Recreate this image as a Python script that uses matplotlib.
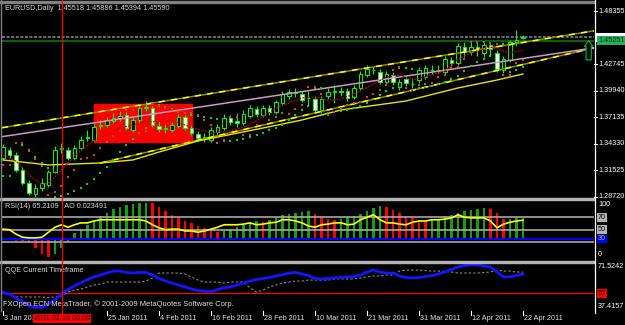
import numpy as np
import matplotlib
matplotlib.use("Agg")
import matplotlib.pyplot as plt
from matplotlib.patches import Rectangle, Polygon
from matplotlib.lines import Line2D
from matplotlib.transforms import blended_transform_factory as blend, offset_copy

plt.rcParams["font.family"] = ["Liberation Sans", "DejaVu Sans"]

W, H = 625, 325

# EURUSD daily bars, 3 Jan - 22 Apr 2011
opens = [1.3282, 1.3367, 1.3314, 1.3155, 1.3017, 1.2901, 1.2964, 1.2996, 1.3134, 1.3377,
         1.3367, 1.3282, 1.3388, 1.3494, 1.3472, 1.3621, 1.3631, 1.3673, 1.3705, 1.3737,
         1.3578, 1.3684, 1.3811, 1.3811, 1.3621, 1.3589, 1.3578, 1.3621, 1.3716, 1.3599,
         1.3536, 1.3494, 1.3472, 1.3557, 1.3599, 1.3705, 1.3673, 1.3652, 1.3726, 1.3800,
         1.3737, 1.3811, 1.3769, 1.3864, 1.3938, 1.3970, 1.3959, 1.3917, 1.3906, 1.3790,
         1.3938, 1.3985, 1.3991, 1.3991, 1.3927, 1.4023, 1.4160, 1.4208, 1.4192, 1.4086,
         1.4160, 1.4033, 1.4118, 1.4060, 1.4107, 1.4139, 1.4208, 1.4213, 1.4192, 1.4319,
         1.4287, 1.4457, 1.4404, 1.4457, 1.4393, 1.4478, 1.4393, 1.4213, 1.4319, 1.4510,
         1.45518]
highs = [1.3430, 1.3398, 1.3345, 1.3187, 1.3049, 1.3007, 1.3070, 1.3155, 1.3409, 1.3441,
         1.3398, 1.3419, 1.3515, 1.3578, 1.3642, 1.3684, 1.3716, 1.3758, 1.3779, 1.3769,
         1.3716, 1.3832, 1.3885, 1.3832, 1.3673, 1.3642, 1.3663, 1.3748, 1.3737, 1.3631,
         1.3568, 1.3546, 1.3610, 1.3642, 1.3748, 1.3737, 1.3758, 1.3790, 1.3843, 1.3832,
         1.3843, 1.3843, 1.3896, 1.3991, 1.4012, 1.4023, 1.3991, 1.3991, 1.3938, 1.3938,
         1.4023, 1.4054, 1.4033, 1.4023, 1.4054, 1.4203, 1.4266, 1.4256, 1.4224, 1.4203,
         1.4192, 1.4118, 1.4150, 1.4128, 1.4245, 1.4266, 1.4266, 1.4266, 1.4361, 1.4351,
         1.4499, 1.4510, 1.4510, 1.4510, 1.4510, 1.4510, 1.4425, 1.4361, 1.4531, 1.4637,
         1.45886]
lows = [1.3261, 1.3282, 1.3134, 1.2996, 1.2890, 1.2869, 1.2933, 1.2975, 1.3123, 1.3335,
        1.3261, 1.3261, 1.3367, 1.3462, 1.3462, 1.3589, 1.3610, 1.3652, 1.3673, 1.3578,
        1.3557, 1.3663, 1.3779, 1.3610, 1.3557, 1.3546, 1.3557, 1.3599, 1.3578, 1.3525,
        1.3462, 1.3451, 1.3451, 1.3536, 1.3578, 1.3631, 1.3610, 1.3631, 1.3705, 1.3716,
        1.3716, 1.3737, 1.3748, 1.3843, 1.3906, 1.3927, 1.3875, 1.3843, 1.3758, 1.3758,
        1.3906, 1.3864, 1.3938, 1.3885, 1.3906, 1.4001, 1.4139, 1.4171, 1.4065, 1.4054,
        1.4054, 1.4001, 1.4044, 1.4023, 1.4076, 1.4118, 1.4171, 1.4181, 1.4171, 1.4256,
        1.4266, 1.4351, 1.4372, 1.4361, 1.4351, 1.4372, 1.4192, 1.4181, 1.4298, 1.4467,
        1.45394]
closes = [1.3398, 1.3314, 1.3155, 1.3017, 1.2911, 1.2964, 1.3017, 1.3134, 1.3367, 1.3388,
          1.3282, 1.3388, 1.3472, 1.3504, 1.3610, 1.3631, 1.3684, 1.3705, 1.3726, 1.3599,
          1.3684, 1.3811, 1.3822, 1.3631, 1.3589, 1.3599, 1.3631, 1.3716, 1.3599, 1.3546,
          1.3494, 1.3504, 1.3578, 1.3610, 1.3705, 1.3663, 1.3652, 1.3748, 1.3811, 1.3748,
          1.3811, 1.3769, 1.3875, 1.3959, 1.3980, 1.3975, 1.3896, 1.3922, 1.3790, 1.3906,
          1.3980, 1.3991, 1.3985, 1.3917, 1.4023, 1.4171, 1.4224, 1.4213, 1.4086, 1.4171,
          1.4086, 1.4086, 1.4076, 1.4065, 1.4213, 1.4234, 1.4213, 1.4208, 1.4330, 1.4287,
          1.4467, 1.4404, 1.4457, 1.4425, 1.4478, 1.4435, 1.4224, 1.4330, 1.4510, 1.4531,
          1.45590]

# parabolic-style dots (green and red)
sar_green = [1.3091, 1.3091, 1.3441, 1.3419, 1.3367, 1.3292, 1.3229, 1.3176, 1.2869, 1.2880,
             1.2901, 1.2933, 1.2964, 1.3007, 1.3060, 1.3123, 1.3187, 1.3261, 1.3345, 1.3419,
             1.3483, 1.3546, 1.3599, 1.3853, 1.3843, 1.3822, 1.3800, 1.3779, 1.3758, 1.3737,
             1.3726, 1.3716, 1.3705, 1.3695, 1.3462, 1.3462, 1.3472, 1.3483, 1.3504, 1.3525,
             1.3546, 1.3578, 1.3599, 1.3631, 1.3684, 1.3737, 1.3790, 1.3832, 1.4023, 1.4023,
             1.3758, 1.3769, 1.3779, 1.3790, 1.3811, 1.3832, 1.3864, 1.3906, 1.3949, 1.3991,
             1.4023, 1.4234, 1.4234, 1.4224, 1.4023, 1.4033, 1.4044, 1.4065, 1.4086, 1.4118,
             1.4150, 1.4203, 1.4256, 1.4298, 1.4330, 1.4361, 1.4488, 1.4488, 1.4192, 1.4213,
             1.4245]
sar_red = [1.3208, 1.3208, 1.3441, 1.3441, 1.3356, 1.3271, 1.3197, 1.2890, 1.2922, 1.2985,
           1.3081, 1.3155, 1.3271, 1.3282, 1.3314, 1.3388, 1.3451, 1.3515, 1.3568, 1.3790,
           1.3790, 1.3546, 1.3568, 1.3853, 1.3832, 1.3811, 1.3790, 1.3769, 1.3758, 1.3758,
           1.3737, 1.3684, 1.3631, 1.3441, 1.3472, 1.3716, 1.3716, 1.3525, 1.3525, 1.3631,
           1.3631, 1.3684, 1.3716, 1.3758, 1.3748, 1.3800, 1.3843, 1.4033, 1.4033, 1.3959,
           1.3737, 1.3769, 1.3811, 1.3843, 1.3864, 1.3875, 1.3927, 1.3959, 1.4001, 1.4054,
           1.4213, 1.4245, 1.4023, 1.4001, 1.4054, 1.4065, 1.4076, 1.4139, 1.4160, 1.4234,
           1.4245, 1.4330, 1.4510, 1.4510, 1.4510, 1.4499, 1.4488, 1.4160, 1.4160, 1.4287,
           1.4319]

# moving averages (vertices read at bar positions)
ma_yellow_bars = [0, 7, 15, 20, 24, 30, 40, 46, 52, 62, 70, 76, 80]
ma_yellow = [1.3261, 1.3208, 1.3229, 1.3261, 1.3345, 1.3462, 1.3599, 1.3684, 1.3790,
             1.3885, 1.4023, 1.4107, 1.4171]
ma_red_bars = [0, 2, 4, 6, 7, 8, 10, 12, 14, 18, 22, 26, 29, 32, 35, 38, 42, 46, 48, 50,
               52, 54, 57, 59, 61, 63, 66, 68, 70, 72, 75, 77, 78, 80]
ma_red = [1.3314, 1.3250, 1.3102, 1.2996, 1.3017, 1.3081, 1.3229, 1.3367, 1.3462, 1.3599,
          1.3663, 1.3673, 1.3610, 1.3546, 1.3568, 1.3631, 1.3811, 1.3917, 1.3927, 1.3896,
          1.3906, 1.3959, 1.4065, 1.4139, 1.4160, 1.4107, 1.4160, 1.4203, 1.4330, 1.4393,
          1.4457, 1.4414, 1.4393, 1.4425]

# trend lines: (bar, price) anchors
upper_line = [(0, 1.3604), (80, 1.4505)]
mid_line = [(0, 1.3509), (80, 1.4335)]
lower_line = [(15, 1.3229), (80, 1.4272)]

box_bars = (14.0, 29.1)
box_prices = (1.3451, 1.3853)
bid = 1.45590
hline_level = 1.45251
price_ticks = [1.48355, 1.42745, 1.39940, 1.37135, 1.34330, 1.31525, 1.28720]

rsi = [51, 50, 43, 38, 37, 37, 38, 46, 54, 58,
       54, 58, 61, 61, 64, 66, 66, 66, 66, 66,
       66, 66, 64, 58, 53, 50, 51, 51, 48, 48,
       46, 48, 51, 54, 58, 58, 58, 59, 61, 58,
       59, 61, 62, 66, 66, 64, 61, 56, 54, 58,
       59, 61, 61, 58, 59, 66, 70, 74, 66, 61,
       61, 59, 58, 62, 64, 64, 66, 66, 67, 69,
       74, 70, 69, 69, 69, 64, 53, 59, 62, 64,
       65.2109]
ao = [0.0011, -0.0011, -0.0022, -0.0023, -0.0045, -0.0101, -0.0168, -0.0201, -0.0168, -0.0101,
      -0.0034, 0.0070, 0.0109, 0.0157, 0.0205, 0.0257, 0.0294, 0.0332, 0.0355, 0.0380,
      0.0392, 0.0399, 0.0403, 0.0399, 0.0361, 0.0317, 0.0269, 0.0232, 0.0205, 0.0176,
      0.0145, 0.0120, 0.0101, 0.0078, 0.0090, 0.0112, 0.0134, 0.0157, 0.0179, 0.0201,
      0.0190, 0.0213, 0.0235, 0.0269, 0.0280, 0.0291, 0.0302, 0.0308, 0.0280, 0.0246,
      0.0224, 0.0213, 0.0224, 0.0246, 0.0257, 0.0280, 0.0313, 0.0347, 0.0369, 0.0358,
      0.0325, 0.0291, 0.0257, 0.0235, 0.0213, 0.0201, 0.0213, 0.0224, 0.0252, 0.0269,
      0.0291, 0.0310, 0.0325, 0.0332, 0.0344, 0.0332, 0.0291, 0.0224, 0.0229, 0.0233,
      0.023491]
qqe_fast = [50.5, 49.5, 46.6, 44.1, 41.3, 39.9, 40.0, 42.4, 45.6, 49.1,
            52.7, 55.2, 57.7, 59.8, 61.6, 63.0, 64.4, 65.8, 65.8, 64.8,
            64.4, 64.8, 64.8, 63.0, 60.5, 58.7, 57.3, 55.9, 54.5, 53.0,
            52.0, 51.6, 51.3, 52.7, 53.8, 54.5, 55.9, 57.3, 58.7, 59.8,
            60.5, 61.2, 62.3, 63.3, 64.4, 64.8, 63.7, 62.6, 60.5, 60.2,
            60.5, 60.9, 61.2, 61.6, 61.9, 63.0, 65.1, 66.5, 65.1, 64.4,
            64.4, 62.3, 61.2, 60.9, 61.2, 61.9, 62.6, 63.7, 65.1, 66.9,
            68.7, 69.7, 70.1, 70.1, 69.4, 68.7, 65.1, 61.6, 61.6, 62.6,
            63.7]
qqe_slow = [np.nan, np.nan, 47.4, 47.4, 47.4, 47.4, 47.4, 47.0, 47.4, 48.1,
            50.9, 52.3, 53.0, 54.5, 55.9, 56.6, 58.0, 58.0, 58.0, 58.0,
            58.0, 58.0, 58.7, 60.9, 64.4, 64.4, 64.4, 64.4, 63.7, 61.6,
            59.4, 58.0, 58.0, 58.0, 57.3, 58.0, 58.0, 58.0, 53.8, 50.9,
            52.3, 54.5, 55.9, 57.3, 58.0, 58.7, 58.7, 59.4, 59.4, 59.4,
            59.4, 60.2, 60.2, 60.2, 60.2, 60.9, 61.6, 62.3, 62.3, 63.0,
            63.0, 65.8, 66.5, 66.5, 66.5, 66.1, 65.8, 65.8, 65.5, 65.1,
            64.4, 64.4, 64.4, 64.4, 64.8, 65.1, 66.5, 65.8, 65.8, 65.1,
            65.1]

tick_bars = [0, 16, 24, 32, 40, 48, 56, 64, 72, 80]
tick_labels = ["3 Jan 2011", "25 Jan 2011", "4 Feb 2011", "16 Feb 2011", "28 Feb 2011",
               "10 Mar 2011", "21 Mar 2011", "31 Mar 2011", "12 Apr 2011", "22 Apr 2011"]
cursor_bar = 9.08
cursor_label = "2011.01.16 00:00"

for arr in (opens, highs, lows, closes, sar_green, sar_red, rsi, ao, qqe_fast, qqe_slow):
    assert len(arr) == 81, len(arr)

FS = 5.2
LIME = "#00ff00"


def fy(y):
    return 1 - y / H


fig = plt.figure(figsize=(W / 100, H / 100), dpi=100, facecolor="black")


def panel(top, bottom):
    a = fig.add_axes([2 / W, 1 - bottom / H, 592 / W, (bottom - top) / H])
    a.set_xlim(-1 / 6.5, 591 / 6.5)
    a.axis("off")
    return a


ax = panel(2, 198)
ax.set_ylim(1.28582, 1.49329)
ax_ao = panel(200, 261)
ax_ao.set_ylim(-0.02462, 0.04364)
ax_rsi = panel(200, 261)
ax_rsi.set_ylim(0, 97.6)
ax_qqe = panel(263, 311)
ax_qqe.set_ylim(37.4157, 71.5242)

x = np.arange(len(closes))
o, h, l, c = map(np.array, (opens, highs, lows, closes))
x0, x1 = ax.get_xlim()

# --- main price panel ---
ax.add_patch(Rectangle((box_bars[0], box_prices[0]), box_bars[1] - box_bars[0],
                       box_prices[1] - box_prices[0], color="#ff0000", zorder=1))
ax.axhline(bid, color="#8a8aa0", lw=1.1, ls=(0, (2, 1)), zorder=2)
ax.axhline(hline_level, color="#007a00", lw=1.2, zorder=2)


def ray(anchors, left=True):
    (b0, p0), (b1, p1) = anchors
    k = (p1 - p0) / (b1 - b0)
    xs = np.array([x0 if left else b0, x1])
    return xs, p0 + k * (xs - b0)


for anchors, left in ((upper_line, True), (lower_line, False)):
    xs, ys = ray(anchors, left)
    ax.plot(xs, ys, color="#8c8c00", lw=1.1, zorder=5)
    ax.plot(xs, ys, color="#ffff00", lw=1.1, ls=(0, (4, 4)), zorder=5)
xs, ys = ray(mid_line)
ax.plot(xs, ys, color="#c89ac8", lw=1.1, zorder=5)
ax.plot(ma_yellow_bars, ma_yellow, color="#e6e600", lw=1.0, zorder=5)
ax.plot(ma_red_bars, ma_red, color="#c80000", lw=0.9, ls=(0, (1.5, 1)), zorder=6)

ax.vlines(x, l, h, color=LIME, lw=0.75, zorder=3)
for xi, oi, ci in zip(x, o, c):
    lo, hi = min(oi, ci), max(oi, ci)
    ax.add_patch(Rectangle((xi - 0.3, lo), 0.6, max(hi - lo, 0.0004),
                           facecolor="black" if ci >= oi else "white",
                           edgecolor=LIME, lw=0.7, zorder=4))

ax.scatter(x, sar_green, s=4, marker="s", color="#00dd00", linewidths=0, zorder=7)
ax.scatter(x, sar_red, s=4, marker="s", color="#e83a3a", linewidths=0, zorder=7)

# arrow object at the right edge, tip on the green line
ab, ap = 90.1, hline_level
ax.add_patch(Polygon([(ab, ap), (ab - 0.65, ap - 0.0063), (ab - 0.4, ap - 0.0063),
                      (ab - 0.4, ap - 0.0205), (ab + 0.4, ap - 0.0205),
                      (ab + 0.4, ap - 0.0063), (ab + 0.65, ap - 0.0063)],
                     closed=True, facecolor="black", edgecolor="#00c040", lw=0.8,
                     zorder=8, clip_on=False))

# --- RSI + AO panel ---
ao_arr = np.array(ao)
ao_col = ["#10a010" if i == 0 or ao_arr[i] >= ao_arr[i - 1] else "#ff0000"
          for i in range(len(ao_arr))]
ax_ao.bar(x, ao_arr, width=0.32, color=ao_col, lw=0)
ax_ao.axhline(0, color="#0000ff", lw=1.6)
for lv in (70, 50, 30):
    ax_rsi.axhline(lv, color="#a8a8a8", lw=1.2, zorder=1)
ax_rsi.plot(x, rsi, color="#ffff00", lw=1.2, zorder=3)

# --- QQE panel ---
ax_qqe.axhline(50, color="#ff0000", lw=0.9)
ax_qqe.plot(x, qqe_slow, color="#8c8c8c", lw=0.8, ls=(0, (2, 2)))
ax_qqe.plot(x, qqe_fast, color="#1414ff", lw=2.0)

# --- frame pieces ---
fig.add_artist(Rectangle((0, fy(3)), 594 / W, 2 / H, transform=fig.transFigure,
                         color="#808080"))
for ytop in (198, 261):
    fig.add_artist(Rectangle((0, fy(ytop + 2)), 594 / W, 2 / H,
                             transform=fig.transFigure, color="#b4b4b4"))
fig.add_artist(Line2D([1.5 / W, 1.5 / W], [fy(0), fy(311)], transform=fig.transFigure,
                      color="#808080", lw=1))
fig.add_artist(Line2D([594.5 / W, 594.5 / W], [fy(0), fy(313)],
                      transform=fig.transFigure, color="white", lw=0.9))

# right price scale
tr_price = blend(fig.transFigure, ax.transData)
for v in price_ticks:
    fig.add_artist(Line2D([594 / W, 597 / W], [v, v], transform=tr_price, color="white", lw=0.8))
    fig.text(598 / W, v, f"{v:.5f}", transform=tr_price, color="white", size=FS, va="center")
# bid label box (mostly hidden under the green line label)
fig.add_artist(Rectangle((596 / W, bid - 0.0045), 29 / W, 0.009, transform=tr_price,
                         facecolor="white", edgecolor="none"))
fig.text(598 / W, hline_level, f"{hline_level:.5f}", transform=tr_price, color="#003000",
         size=FS, va="center", bbox=dict(facecolor="#22b060", edgecolor="none", pad=0.9))

# RSI / AO scale
tr_rsi = blend(fig.transFigure, ax_rsi.transData)
tr_ao = blend(fig.transFigure, ax_ao.transData)
fig.text(598 / W, fy(205), "100", color="white", size=FS, va="center")
for lv in (70, 50):
    fig.text(598 / W, lv, str(lv), transform=tr_rsi, color="black", size=FS, va="center",
             bbox=dict(facecolor="#b4b4b4", edgecolor="none", pad=0.6))
fig.text(598 / W, 0, "30", transform=tr_ao, color="#b0b0b0", size=FS, va="center",
         bbox=dict(facecolor="#0000ff", edgecolor="none", pad=0.6))
fig.text(598 / W, fy(255), "0", color="white", size=FS, va="center")

# QQE scale
tr_qqe = blend(fig.transFigure, ax_qqe.transData)
fig.text(598 / W, fy(267), "71.5242", color="white", size=FS, va="center")
fig.text(598 / W, 50, "50", transform=tr_qqe, color="#200000", size=FS, va="center",
         bbox=dict(facecolor="#ff0000", edgecolor="none", pad=0.6))
fig.text(598 / W, fy(306), "37.4157", color="white", size=FS, va="center")

# panel captions
fig.text(5 / W, fy(8), "EURUSD,Daily  1.45518 1.45886 1.45394 1.45590", color="#d8d8d8",
         size=FS, va="center")
fig.text(5 / W, fy(207), "RSI(14) 65.2109   AO 0.023491", color="#d8d8d8", size=FS,
         va="center")
fig.text(5 / W, fy(271), "QQE Current Timeframe", color="#d8d8d8", size=FS, va="center")
fig.text(3 / W, fy(304), "FXOpen ECN MetaTrader, \u00a9 2001-2009 MetaQuotes Software Corp.",
         color="#e0e0e0", size=5.4, va="center")

# date scale
tr_date = blend(ax.transData, fig.transFigure)
for b, lab in zip(tick_bars, tick_labels):
    fig.add_artist(Line2D([b, b], [fy(311), fy(315)], transform=tr_date, color="white", lw=0.8))
    fig.text(b, fy(318.5), lab, transform=offset_copy(tr_date, fig=fig, x=1.5, units="dots"),
             color="#e0e0e0", size=FS, va="center")

# crosshair cursor
fig.add_artist(Line2D([cursor_bar, cursor_bar], [fy(0), fy(313)], transform=tr_date,
                      color="#ff0000", lw=0.9, zorder=20))
fig.text(cursor_bar, fy(318.5), cursor_label, transform=tr_date, color="#300000", size=FS,
         va="center", ha="center", zorder=21,
         bbox=dict(facecolor="#ff0000", edgecolor="none", pad=0.8))

fig.savefig("out.png", dpi=100, facecolor="black")
